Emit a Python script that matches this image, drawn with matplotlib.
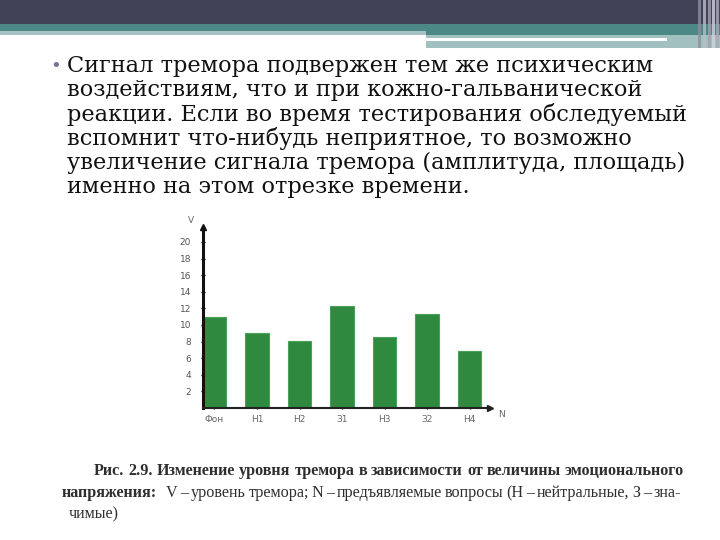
import numpy as np
import matplotlib.pyplot as plt
from matplotlib.patches import Rectangle

# chart data
categories = ['Фон', 'Н1', 'Н2', 'З1', 'Н3', 'З2', 'Н4']
values = [11.0, 9.0, 8.1, 12.3, 8.6, 11.3, 6.9]
yticks = [2, 4, 6, 8, 10, 12, 14, 16, 18, 20]

text_lines = [
    'Сигнал тремора подвержен тем же психическим',
    'воздействиям, что и при кожно-гальванической',
    'реакции. Если во время тестирования обследуемый',
    'вспомнит что-нибудь неприятное, то возможно',
    'увеличение сигнала тремора (амплитуда, площадь)',
    'именно на этом отрезке времени.',
]
caption1 = 'Рис. 2.9. Изменение уровня тремора в зависимости от величины эмоционального'
caption2_bold = 'напряжения:'
caption2 = 'V – уровень тремора;  N – предъявляемые вопросы (Н – нейтральные, З – зна-'
caption3 = 'чимые)'

W, H = 720, 540
fig = plt.figure(figsize=(7.2, 5.4), dpi=100)
fig.patch.set_facecolor('white')
renderer = fig.canvas.get_renderer()

# slide background in pixel coordinates
bg = fig.add_axes([0, 0, 1, 1])
bg.set_xlim(0, W)
bg.set_ylim(H, 0)
bg.axis('off')

bg.add_patch(Rectangle((0, 0), W, 24, color='#414257', lw=0))
bg.add_patch(Rectangle((0, 24), W, 7, color='#4b8886', lw=0))
bg.add_patch(Rectangle((0, 31), 426, 4, color='#a6c2c2', lw=0))
bg.add_patch(Rectangle((426, 31), W - 426, 4, color='#4b8886', lw=0))
bg.add_patch(Rectangle((426, 35), W - 426, 13, color='#a3c0c0', lw=0))
bg.add_patch(Rectangle((426, 38), 241, 3, color='white', lw=0))
for x0, c in [(698, '#8d8fa0'), (703, '#b9bcc6'), (708, '#9fa2b0'), (712, '#d0d2da'), (716, '#a8abb8')]:
    bg.add_patch(Rectangle((x0, 0), 2.5, 48, color=c, lw=0, alpha=0.8))

# bullet text
bg.text(50, 66, '•', fontsize=13, color='#7b6f9c', va='center', ha='left')
for i, line in enumerate(text_lines):
    bg.text(67, 66 + i * 24.3, line, fontsize=16.2, family='DejaVu Serif',
            color='#111111', va='center', ha='left')


def justify(words, x0, x1, y, **kw):
    # place words so the line fills x0..x1
    arts = [bg.text(x0, y, w, **kw) for w in words]
    widths = [a.get_window_extent(renderer).width for a in arts]
    gap = (x1 - x0 - sum(widths)) / (len(words) - 1)
    xpos = x0
    for a, w in zip(arts, widths):
        a.set_x(xpos)
        xpos += w + gap


# caption
cap = dict(family='Liberation Serif', fontsize=11.6, va='center', ha='left', color='#2e2e2e')
justify(caption1.split(' '), 94, 684, 471, fontweight='bold', **cap)
bg.text(157, 493, caption2_bold, fontweight='bold',
        **{**cap, 'ha': 'right'})
justify(caption2.replace(';  ', '; ').split(' '), 166, 681, 493, **cap)
bg.text(69, 514, caption3, **cap)

# chart axes placed in pixels
left, right, bottom, top = 203, 490, 408, 227
ax = fig.add_axes([left / W, 1 - bottom / H, (right - left) / W, (bottom - top) / H])
ax.patch.set_alpha(0)
x = np.arange(len(categories))
ax.bar(x, values, width=0.55, color='#2f8a3f', edgecolor='#4aa05a', linewidth=0.8, zorder=2)
ax.set_xlim(-0.27, 6.48)
ax.set_ylim(0, 21.8)
for s in ['top', 'right']:
    ax.spines[s].set_visible(False)
ax.spines['left'].set_linewidth(2.2)
ax.spines['bottom'].set_linewidth(1.5)
ax.spines['left'].set_color('#111111')
ax.spines['bottom'].set_color('#222222')
ax.set_yticks(yticks)
ax.set_yticklabels([str(v) for v in yticks], fontsize=6.5, color='#555555')
ax.set_xticks(x)
ax.set_xticklabels(categories, fontsize=6.5, color='#666666')
ax.tick_params(axis='y', length=3, width=1, direction='inout', pad=7)
ax.tick_params(axis='x', length=2, width=1, direction='inout', pad=4)
ax.plot(1, 0, '>', color='#222222', markersize=4, transform=ax.transAxes, clip_on=False)
ax.plot(0, 1, '^', color='#111111', markersize=4, transform=ax.transAxes, clip_on=False)
ax.text(-0.03, 1.01, 'V', fontsize=6.5, color='#666666', transform=ax.transAxes, ha='right', va='bottom')
ax.text(1.03, -0.01, 'N', fontsize=6.5, color='#666666', transform=ax.transAxes, ha='left', va='top')

fig.savefig('out.png', dpi=100)
